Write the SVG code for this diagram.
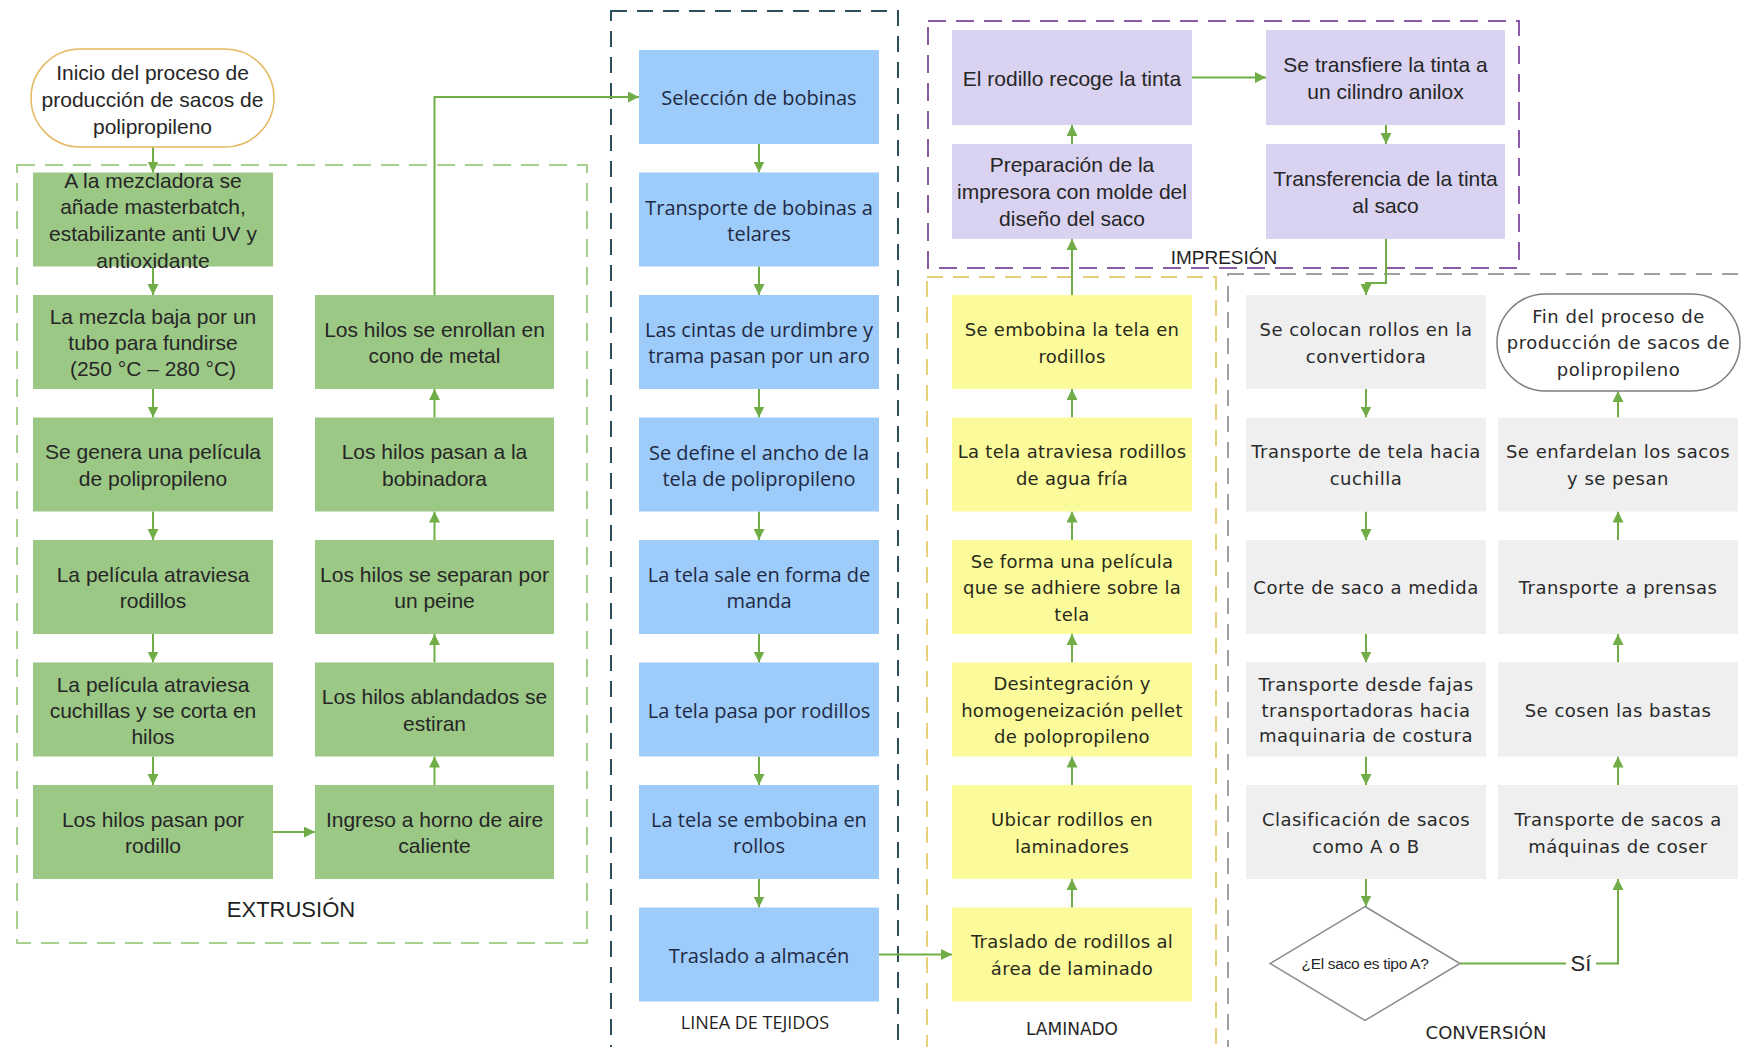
<svg xmlns="http://www.w3.org/2000/svg" width="1743" height="1047" viewBox="0 0 1743 1047">
<defs>
<style>
.g{fill:#9cc886}
.b{fill:#9dcbfa}
.p{fill:#d9d3f1}
.y{fill:#fbfb9b}
.gr{fill:#efefef}
text{text-anchor:middle;dominant-baseline:central}
.tg{font-family:"Liberation Sans",Arial,sans-serif;font-size:21px;fill:#262626}
.tb{font-family:"Open Sans",sans-serif;font-size:20px;fill:#1f2a44}
.ty{font-family:"DejaVu Sans",sans-serif;font-size:18px;letter-spacing:0.3px;fill:#2a2a1a}
.tgr{font-family:"DejaVu Sans",sans-serif;font-size:18px;letter-spacing:0.5px;fill:#2a2a2a}
.lbl{font-family:"Liberation Sans",Arial,sans-serif;fill:#1f1f1f}
.frame{fill:none;stroke-width:2}
.conn{fill:none;stroke:#70ad47;stroke-width:2;marker-end:url(#ah)}
.line{fill:none;stroke:#70ad47;stroke-width:2}
</style>
<marker id="ah" viewBox="0 0 10 10" refX="10" refY="5" markerWidth="11" markerHeight="11" markerUnits="userSpaceOnUse" orient="auto">
<path d="M0,0 L10,5 L0,10 z" fill="#70ad47"/>
</marker>
</defs>
<rect width="1743" height="1047" fill="#ffffff"/>

<g id="frames">
<rect class="frame" x="17" y="165" width="570" height="778" stroke="#a9d18e" stroke-dasharray="18 10"/>
<rect class="frame" x="611" y="11" width="287" height="1070" stroke="#2d4f5c" stroke-dasharray="16 10"/>
<rect class="frame" x="928" y="21" width="591" height="247" stroke="#8c5aa6" stroke-width="2.5" stroke-dasharray="18 10"/>
<rect class="frame" x="927" y="277" width="289" height="800" stroke="#e8cf7a" stroke-dasharray="16 10"/>
<rect class="frame" x="1228" y="274" width="540" height="800" stroke="#a0a0a0" stroke-dasharray="16 10"/>
<text class="lbl" x="291" y="909" font-size="22">EXTRUSIÓN</text>
<text x="755" y="1022" font-family="Open Sans, sans-serif" font-size="18" fill="#1f1f1f">LINEA DE TEJIDOS</text>
<text class="lbl" x="1224" y="257" font-size="19">IMPRESIÓN</text>
<text x="1072" y="1029" font-family="DejaVu Sans, sans-serif" font-size="17" fill="#262626">LAMINADO</text>
<text x="1486" y="1032" font-family="DejaVu Sans, sans-serif" font-size="18" fill="#262626">CONVERSIÓN</text>
</g>

<g id="connectors">
<path class="conn" d="M153,147 V172.5"/>
<path class="conn" d="M153,266.5 V295"/>
<path class="conn" d="M153,389 V417.5"/>
<path class="conn" d="M153,511.5 V540"/>
<path class="conn" d="M153,634 V662.5"/>
<path class="conn" d="M153,756.5 V785"/>
<path class="conn" d="M273,832 H315"/>
<path class="conn" d="M434.5,785 V756.5"/>
<path class="conn" d="M434.5,662.5 V634"/>
<path class="conn" d="M434.5,540 V511.5"/>
<path class="conn" d="M434.5,417.5 V389"/>
<path class="conn" d="M434.5,295 V97 H639"/>
<path class="conn" d="M759,144 V172.5"/>
<path class="conn" d="M759,266.5 V295"/>
<path class="conn" d="M759,389 V417.5"/>
<path class="conn" d="M759,511.5 V540"/>
<path class="conn" d="M759,634 V662.5"/>
<path class="conn" d="M759,756.5 V785"/>
<path class="conn" d="M759,879 V907.5"/>
<path class="conn" d="M879,954.5 H952"/>
<path class="conn" d="M1072,907.5 V879"/>
<path class="conn" d="M1072,785 V756.5"/>
<path class="conn" d="M1072,662.5 V634"/>
<path class="conn" d="M1072,540 V511.5"/>
<path class="conn" d="M1072,417.5 V389"/>
<path class="conn" d="M1072,295 V239"/>
<path class="conn" d="M1072,144 V125"/>
<path class="conn" d="M1192,77.5 H1266"/>
<path class="conn" d="M1386,125 V144"/>
<path class="conn" d="M1386,239 V283 H1366 V295"/>
<path class="conn" d="M1366,389 V417.5"/>
<path class="conn" d="M1366,511.5 V540"/>
<path class="conn" d="M1366,634 V662.5"/>
<path class="conn" d="M1366,756.5 V785"/>
<path class="conn" d="M1366,879 V906.5"/>
<path class="line" d="M1460,963.5 H1566"/>
<path class="conn" d="M1596,963.5 H1618 V879"/>
<text x="1581" y="963.5" font-family="Liberation Sans, Arial, sans-serif" font-size="22" fill="#262626">Sí</text>
<path class="conn" d="M1618,785 V756.5"/>
<path class="conn" d="M1618,662.5 V634"/>
<path class="conn" d="M1618,540 V511.5"/>
<path class="conn" d="M1618,417.5 V391"/>
</g>

<g id="n-inicio">
<rect x="31" y="49" width="243" height="98" rx="49" fill="#ffffff" stroke="#e3b860" stroke-width="1.5"/>
<text class="tg"><tspan x="152.5" y="72">Inicio del proceso de</tspan><tspan x="152.5" y="99">producción de sacos de</tspan><tspan x="152.5" y="126">polipropileno</tspan></text>
</g>

<g id="n-e1"><rect class="g" x="33" y="172.5" width="240" height="94"/>
<text class="tg"><tspan x="153" y="179.5">A la mezcladora se</tspan><tspan x="153" y="206.2">añade masterbatch,</tspan><tspan x="153" y="232.8">estabilizante anti UV y</tspan><tspan x="153" y="259.5">antioxidante</tspan></text></g>
<g id="n-e2"><rect class="g" x="33" y="295" width="240" height="94"/>
<text class="tg"><tspan x="153" y="316">La mezcla baja por un</tspan><tspan x="153" y="342">tubo para fundirse</tspan><tspan x="153" y="368">(250 °C – 280 °C)</tspan></text></g>
<g id="n-e3"><rect class="g" x="33" y="417.5" width="240" height="94"/>
<text class="tg"><tspan x="153" y="451.2">Se genera una película</tspan><tspan x="153" y="477.8">de polipropileno</tspan></text></g>
<g id="n-e4"><rect class="g" x="33" y="540" width="240" height="94"/>
<text class="tg"><tspan x="153" y="573.7">La película atraviesa</tspan><tspan x="153" y="600.3">rodillos</tspan></text></g>
<g id="n-e5"><rect class="g" x="33" y="662.5" width="240" height="94"/>
<text class="tg"><tspan x="153" y="683.5">La película atraviesa</tspan><tspan x="153" y="709.5">cuchillas y se corta en</tspan><tspan x="153" y="735.5">hilos</tspan></text></g>
<g id="n-e6"><rect class="g" x="33" y="785" width="240" height="94"/>
<text class="tg"><tspan x="153" y="818.7">Los hilos pasan por</tspan><tspan x="153" y="845.3">rodillo</tspan></text></g>
<g id="n-e7"><rect class="g" x="315" y="785" width="239" height="94"/>
<text class="tg"><tspan x="434.5" y="818.7">Ingreso a horno de aire</tspan><tspan x="434.5" y="845.3">caliente</tspan></text></g>
<g id="n-e8"><rect class="g" x="315" y="662.5" width="239" height="94"/>
<text class="tg"><tspan x="434.5" y="696.2">Los hilos ablandados se</tspan><tspan x="434.5" y="722.8">estiran</tspan></text></g>
<g id="n-e9"><rect class="g" x="315" y="540" width="239" height="94"/>
<text class="tg"><tspan x="434.5" y="573.7">Los hilos se separan por</tspan><tspan x="434.5" y="600.3">un peine</tspan></text></g>
<g id="n-e10"><rect class="g" x="315" y="417.5" width="239" height="94"/>
<text class="tg"><tspan x="434.5" y="451.2">Los hilos pasan a la</tspan><tspan x="434.5" y="477.8">bobinadora</tspan></text></g>
<g id="n-e11"><rect class="g" x="315" y="295" width="239" height="94"/>
<text class="tg"><tspan x="434.5" y="328.7">Los hilos se enrollan en</tspan><tspan x="434.5" y="355.3">cono de metal</tspan></text></g>

<g id="n-t1"><rect class="b" x="639" y="50" width="240" height="94"/>
<text class="tb"><tspan x="759" y="97">Selección de bobinas</tspan></text></g>
<g id="n-t2"><rect class="b" x="639" y="172.5" width="240" height="94"/>
<text class="tb"><tspan x="759" y="206.5">Transporte de bobinas a</tspan><tspan x="759" y="232.5">telares</tspan></text></g>
<g id="n-t3"><rect class="b" x="639" y="295" width="240" height="94"/>
<text class="tb"><tspan x="759" y="329">Las cintas de urdimbre y</tspan><tspan x="759" y="355">trama pasan por un aro</tspan></text></g>
<g id="n-t4"><rect class="b" x="639" y="417.5" width="240" height="94"/>
<text class="tb"><tspan x="759" y="451.5">Se define el ancho de la</tspan><tspan x="759" y="477.5">tela de polipropileno</tspan></text></g>
<g id="n-t5"><rect class="b" x="639" y="540" width="240" height="94"/>
<text class="tb"><tspan x="759" y="574">La tela sale en forma de</tspan><tspan x="759" y="600">manda</tspan></text></g>
<g id="n-t6"><rect class="b" x="639" y="662.5" width="240" height="94"/>
<text class="tb"><tspan x="759" y="709.5">La tela pasa por rodillos</tspan></text></g>
<g id="n-t7"><rect class="b" x="639" y="785" width="240" height="94"/>
<text class="tb"><tspan x="759" y="819">La tela se embobina en</tspan><tspan x="759" y="845">rollos</tspan></text></g>
<g id="n-t8"><rect class="b" x="639" y="907.5" width="240" height="94"/>
<text class="tb"><tspan x="759" y="954.5">Traslado a almacén</tspan></text></g>

<g id="n-i1"><rect class="p" x="952" y="30" width="240" height="95"/>
<text class="tg"><tspan x="1072" y="77.5">El rodillo recoge la tinta</tspan></text></g>
<g id="n-i2"><rect class="p" x="1266" y="30" width="239" height="95"/>
<text class="tg"><tspan x="1385.5" y="64">Se transfiere la tinta a</tspan><tspan x="1385.5" y="91">un cilindro anilox</tspan></text></g>
<g id="n-i3"><rect class="p" x="952" y="144" width="240" height="95"/>
<text class="tg"><tspan x="1072" y="164">Preparación de la</tspan><tspan x="1072" y="191">impresora con molde del</tspan><tspan x="1072" y="218">diseño del saco</tspan></text></g>
<g id="n-i4"><rect class="p" x="1266" y="144" width="239" height="95"/>
<text class="tg"><tspan x="1385.5" y="178">Transferencia de la tinta</tspan><tspan x="1385.5" y="205">al saco</tspan></text></g>

<g id="n-l1"><rect class="y" x="952" y="295" width="240" height="94"/>
<text class="ty"><tspan x="1072" y="328.5">Se embobina la tela en</tspan><tspan x="1072" y="355.5">rodillos</tspan></text></g>
<g id="n-l2"><rect class="y" x="952" y="417.5" width="240" height="94"/>
<text class="ty"><tspan x="1072" y="451">La tela atraviesa rodillos</tspan><tspan x="1072" y="478">de agua fría</tspan></text></g>
<g id="n-l3"><rect class="y" x="952" y="540" width="240" height="94"/>
<text class="ty"><tspan x="1072" y="560.5">Se forma una película</tspan><tspan x="1072" y="587">que se adhiere sobre la</tspan><tspan x="1072" y="613.5">tela</tspan></text></g>
<g id="n-l4"><rect class="y" x="952" y="662.5" width="240" height="94"/>
<text class="ty"><tspan x="1072" y="683">Desintegración y</tspan><tspan x="1072" y="709.5">homogeneización pellet</tspan><tspan x="1072" y="736">de polopropileno</tspan></text></g>
<g id="n-l5"><rect class="y" x="952" y="785" width="240" height="94"/>
<text class="ty"><tspan x="1072" y="818.5">Ubicar rodillos en</tspan><tspan x="1072" y="845.5">laminadores</tspan></text></g>
<g id="n-l6"><rect class="y" x="952" y="907.5" width="240" height="94"/>
<text class="ty"><tspan x="1072" y="941">Traslado de rodillos al</tspan><tspan x="1072" y="968">área de laminado</tspan></text></g>

<g id="n-c1"><rect class="gr" x="1246" y="295" width="240" height="94"/>
<text class="tgr"><tspan x="1366" y="328.5">Se colocan rollos en la</tspan><tspan x="1366" y="355.5">convertidora</tspan></text></g>
<g id="n-c2"><rect class="gr" x="1246" y="417.5" width="240" height="94"/>
<text class="tgr"><tspan x="1366" y="451">Transporte de tela hacia</tspan><tspan x="1366" y="478">cuchilla</tspan></text></g>
<g id="n-c3"><rect class="gr" x="1246" y="540" width="240" height="94"/>
<text class="tgr"><tspan x="1366" y="587">Corte de saco a medida</tspan></text></g>
<g id="n-c4"><rect class="gr" x="1246" y="662.5" width="240" height="94"/>
<text class="tgr"><tspan x="1366" y="684">Transporte desde fajas</tspan><tspan x="1366" y="709.5">transportadoras hacia</tspan><tspan x="1366" y="735">maquinaria de costura</tspan></text></g>
<g id="n-c5"><rect class="gr" x="1246" y="785" width="240" height="94"/>
<text class="tgr"><tspan x="1366" y="818.5">Clasificación de sacos</tspan><tspan x="1366" y="845.5">como A o B</tspan></text></g>
<g id="n-dec"><path d="M1365,906.5 L1460,963.5 L1365,1020.5 L1270,963.5 Z" fill="#ffffff" stroke="#8c8c8c" stroke-width="1.5"/>
<text x="1365" y="963.5" font-family="Liberation Sans, Arial, sans-serif" font-size="15.5" letter-spacing="-0.3" fill="#262626">¿El saco es tipo A?</text></g>
<g id="n-c6"><rect class="gr" x="1498" y="785" width="240" height="94"/>
<text class="tgr"><tspan x="1618" y="818.5">Transporte de sacos a</tspan><tspan x="1618" y="845.5">máquinas de coser</tspan></text></g>
<g id="n-c7"><rect class="gr" x="1498" y="662.5" width="240" height="94"/>
<text class="tgr"><tspan x="1618" y="709.5">Se cosen las bastas</tspan></text></g>
<g id="n-c8"><rect class="gr" x="1498" y="540" width="240" height="94"/>
<text class="tgr"><tspan x="1618" y="587">Transporte a prensas</tspan></text></g>
<g id="n-c9"><rect class="gr" x="1498" y="417.5" width="240" height="94"/>
<text class="tgr"><tspan x="1618" y="451">Se enfardelan los sacos</tspan><tspan x="1618" y="478">y se pesan</tspan></text></g>
<g id="n-fin"><rect x="1497" y="294" width="243" height="97" rx="48.5" fill="#ffffff" stroke="#7f7f7f" stroke-width="1.5"/>
<text class="tgr"><tspan x="1618.5" y="315.5">Fin del proceso de</tspan><tspan x="1618.5" y="342">producción de sacos de</tspan><tspan x="1618.5" y="368.5">polipropileno</tspan></text></g>
</svg>
